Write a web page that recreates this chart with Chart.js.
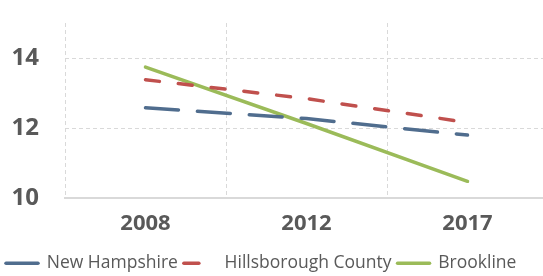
<!DOCTYPE html>
<html>
<head>
<meta charset="utf-8">
<script src="https://cdn.jsdelivr.net/npm/chart.js@4"></script>
<style>
  body { margin: 0; overflow: hidden; background: #fff; }
  #wrap { width: 548px; height: 276px; }
</style>
</head>
<body>
<div id="wrap"><canvas id="trendChart" width="548" height="276"></canvas></div>
<script>
const years = ['2008', '2012', '2017'];
const newHampshire = [12.58, 12.27, 11.8];
const hillsborough = [13.38, 12.84, 12.16];
const brookline = [13.74, 12.13, 10.48];
const yTicks = [10, 12, 14];

const txt = '#595959';
const gridGray = '#d9d9d9';
const fam = "'Open Sans', sans-serif";

// legend box is a bit taller than needed, trim it so the plot sits lower
const legendTrim = {
    id: 'legendTrim',
    beforeLayout(chart) {
        const lg = chart.legend;
        if (lg && !lg._trimmed) {
            const fit = lg.fit;
            lg.fit = function () {
                fit.call(this);
                this.height -= 6;
            };
            lg._trimmed = true;
        }
    }
};

const ctx = document.getElementById('trendChart').getContext('2d');

const trendChart = new Chart(ctx, {
    type: 'line',
    data: {
        labels: years,
        datasets: [
            {
                label: 'New Hampshire',
                data: newHampshire,
                borderColor: '#506d8e',
                borderWidth: 3.5,
                borderDash: [33, 19],
                borderCapStyle: 'round',
                pointRadius: 0,
                tension: 0
            },
            {
                label: 'Hillsborough County',
                data: hillsborough,
                borderColor: '#c0504d',
                borderWidth: 3.5,
                borderDash: [14, 19],
                borderCapStyle: 'round',
                pointRadius: 0,
                tension: 0
            },
            {
                label: 'Brookline',
                data: brookline,
                borderColor: '#9bbb59',
                borderWidth: 3.5,
                borderCapStyle: 'round',
                pointRadius: 0,
                tension: 0
            }
        ]
    },
    options: {
        responsive: false,
        animation: false,
        layout: { padding: { top: 23, right: 0, bottom: 0, left: 0 } },
        scales: {
            x: {
                offset: true,
                grid: { color: gridGray, drawTicks: false, offset: true },
                border: { display: true, color: gridGray, width: 2, dash: [4, 3] },
                ticks: { color: txt, padding: 12, font: { family: fam, size: 22, weight: 'bold' } }
            },
            y: {
                min: 10,
                max: 15,
                afterBuildTicks: scale => {
                    scale.ticks = yTicks.map(v => ({ value: v }));
                },
                afterFit: scale => {
                    scale.width = 65;
                    scale.paddingTop = 0;
                    scale.paddingBottom = 0;
                },
                grid: { color: gridGray, drawTicks: false },
                border: { display: false, dash: [4, 3] },
                ticks: { color: txt, padding: 26, font: { family: fam, size: 24, weight: 'bold' } }
            }
        },
        plugins: {
            tooltip: { enabled: false },
            legend: {
                display: true,
                position: 'bottom',
                align: 'start',
                labels: {
                    usePointStyle: true,
                    pointStyle: 'line',
                    pointStyleWidth: 32,
                    color: txt,
                    padding: 6,
                    font: { family: fam, size: 17.5 },
                    generateLabels: chart => {
                        const items = Chart.defaults.plugins.legend.labels.generateLabels(chart);
                        items.forEach((it, i) => {
                            it.lineDash = i === 1 ? [15, 60] : [];
                            it.lineCap = 'round';
                        });
                        return items;
                    }
                }
            }
        }
    },
    plugins: [legendTrim]
});
</script>
</body>
</html>
